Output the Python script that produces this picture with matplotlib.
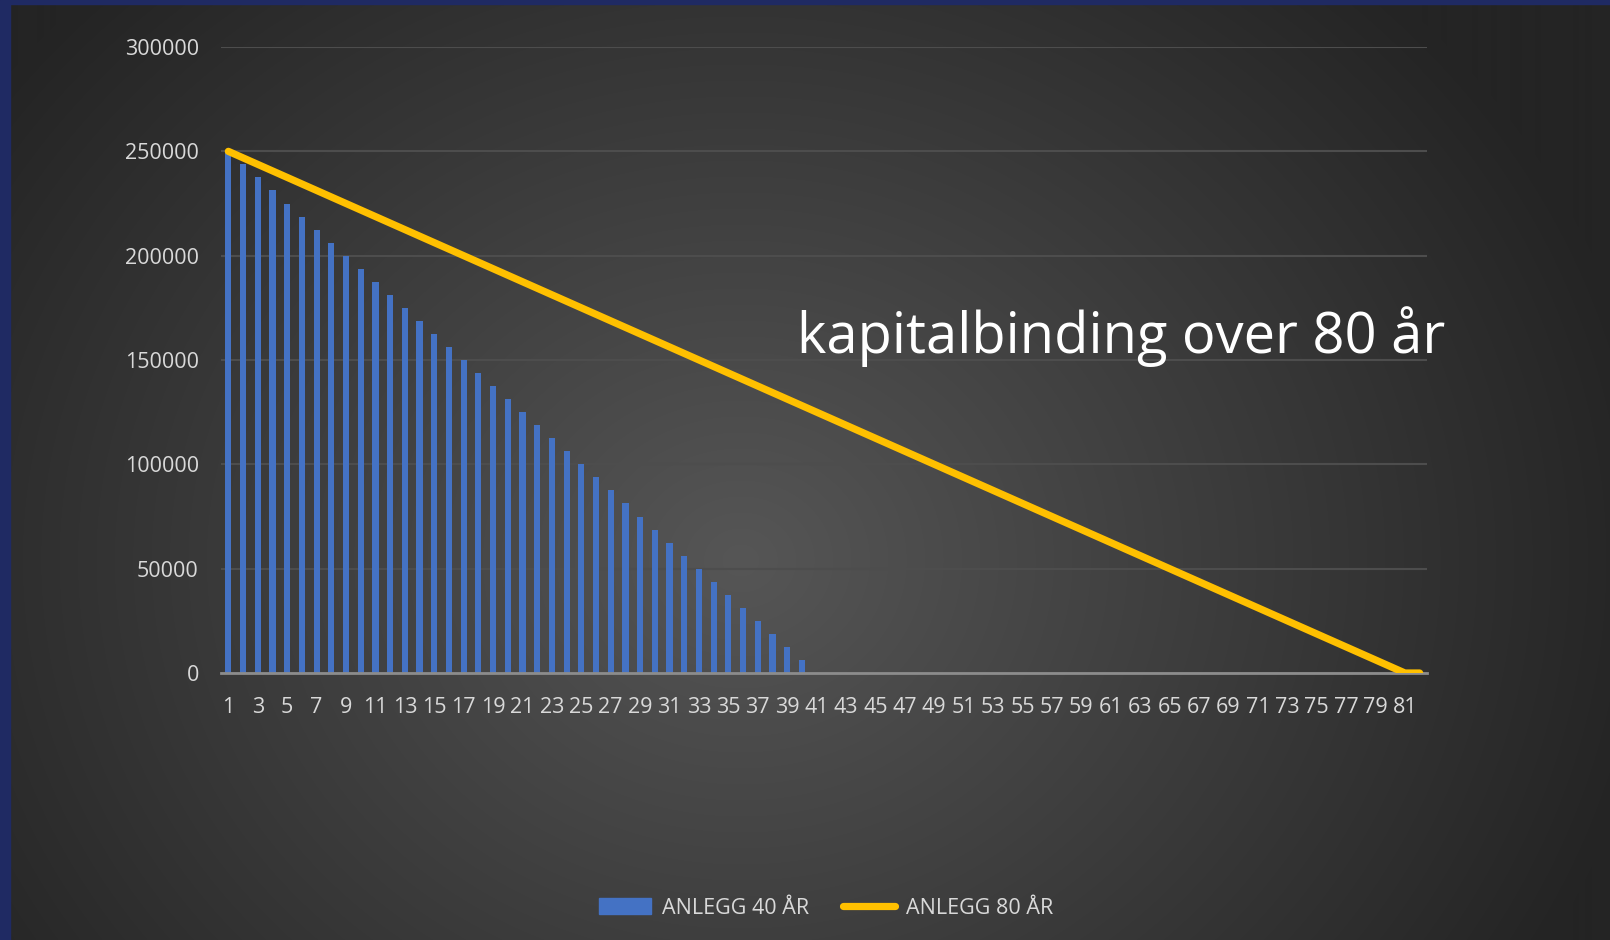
import matplotlib.pyplot as plt
import matplotlib.patches as mpatches
import matplotlib.lines as mlines
import numpy as np

plt.rcParams['font.family'] = ['Open Sans', 'DejaVu Sans']

# data
years = list(range(1, 83))
anlegg40 = [250000, 243750, 237500, 231250, 225000, 218750, 212500, 206250, 200000, 193750,
            187500, 181250, 175000, 168750, 162500, 156250, 150000, 143750, 137500, 131250,
            125000, 118750, 112500, 106250, 100000, 93750, 87500, 81250, 75000, 68750,
            62500, 56250, 50000, 43750, 37500, 31250, 25000, 18750, 12500, 6250]
anlegg80 = [250000, 246875, 243750, 240625, 237500, 234375, 231250, 228125, 225000, 221875,
            218750, 215625, 212500, 209375, 206250, 203125, 200000, 196875, 193750, 190625,
            187500, 184375, 181250, 178125, 175000, 171875, 168750, 165625, 162500, 159375,
            156250, 153125, 150000, 146875, 143750, 140625, 137500, 134375, 131250, 128125,
            125000, 121875, 118750, 115625, 112500, 109375, 106250, 103125, 100000, 96875,
            93750, 90625, 87500, 84375, 81250, 78125, 75000, 71875, 68750, 65625,
            62500, 59375, 56250, 53125, 50000, 46875, 43750, 40625, 37500, 34375,
            31250, 28125, 25000, 21875, 18750, 15625, 12500, 9375, 6250, 3125,
            0, 0]
yticks = [0, 50000, 100000, 150000, 200000, 250000, 300000]
title = "kapitalbinding over 80 år"

W, H = 1610, 940
fig = plt.figure(figsize=(W / 100, H / 100), dpi=100)

# background radial gradient
bg = fig.add_axes([0, 0, 1, 1], zorder=-10)
yy, xx = np.mgrid[0:H, 0:W]
d = np.sqrt(((xx - 740) / 1150.0) ** 2 + ((yy - 560) / 1000.0) ** 2)
t = np.clip(d / 0.8, 0, 1)
v = (0x56 - (0x56 - 0x24) * t) / 255.0
bg.imshow(np.dstack([v, v, v]), aspect='auto', extent=[0, 1, 0, 1])
bg.axis('off')
# dark blue frame edges
fig.patches.append(mpatches.Rectangle((0, 0), 10 / W, 1, transform=fig.transFigure,
                                      color='#1f2a63', zorder=5))
fig.patches.append(mpatches.Rectangle((0, 1 - 4 / H), 1, 4 / H, transform=fig.transFigure,
                                      color='#1f2a63', zorder=5))

ax = fig.add_axes([221 / W, 1 - 673 / H, (1427 - 221) / W, (673 - 47) / H])
ax.patch.set_alpha(0)

ax.bar(years[:len(anlegg40)], anlegg40, width=0.42, color='#4472C4', zorder=2)
ax.plot(years, anlegg80, color='#FFC000', lw=5.2, solid_capstyle='round',
        solid_joinstyle='round', zorder=3)

ax.set_xlim(0.5, 82.5)
ax.set_ylim(0, 300000)
ax.set_yticks(yticks)
ax.set_yticklabels([str(y) for y in yticks])
ax.set_xticks(years[::2])
ax.set_xticklabels([str(x) for x in years[::2]])
ax.tick_params(axis='both', length=0, colors='#d9d9d9', labelsize=15.5)
ax.tick_params(axis='y', pad=16)
ax.tick_params(axis='x', pad=17)
ax.grid(axis='y', color='#4d4d4d', lw=1.5, zorder=0)
for s in ['top', 'right', 'left']:
    ax.spines[s].set_visible(False)
ax.spines['bottom'].set_color('#8c8c8c')
ax.spines['bottom'].set_linewidth(2)
ax.spines['bottom'].set_zorder(2.5)

fig.text(1121 / W, 1 - 337 / H, title, color='white', fontsize=40.3,
         ha='center', va='center')

h1 = mpatches.Patch(color='#4472C4', label='ANLEGG 40 ÅR')
h2 = mlines.Line2D([], [], color='#FFC000', lw=5.2, solid_capstyle='round', label='ANLEGG 80 ÅR')
leg = fig.legend(handles=[h1, h2], loc='center', bbox_to_anchor=(826 / W, 1 - 908 / H),
                 ncol=2, frameon=False, fontsize=15.5, handlelength=2.4, handleheight=0.75,
                 columnspacing=1.6, handletextpad=0.5)
for txt in leg.get_texts():
    txt.set_color('#d9d9d9')

fig.savefig('out.png', dpi=100)
